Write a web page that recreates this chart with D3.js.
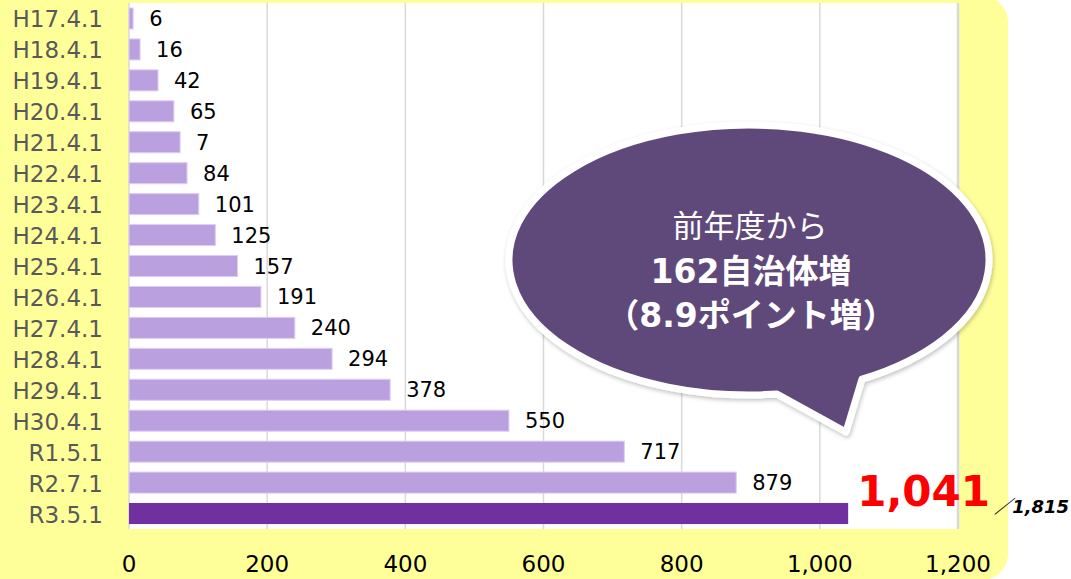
<html>
<head>
	<meta charset='utf-8' />
	<title>自治体数の推移</title>
	<script src="https://cdn.jsdelivr.net/npm/d3@7/dist/d3.min.js"></script>
	<style>
	body { margin: 0; background: #fff; }
	text { font-family: "DejaVu Sans", "Noto Sans CJK JP", sans-serif; }
	</style>
</head>
<body>
<script>

	// data
	var dates = ["H17.4.1","H18.4.1","H19.4.1","H20.4.1","H21.4.1","H22.4.1","H23.4.1","H24.4.1",
				 "H25.4.1","H26.4.1","H27.4.1","H28.4.1","H29.4.1","H30.4.1","R1.5.1","R2.7.1","R3.5.1"];
	var counts = [6,16,42,65,74,84,101,125,157,191,240,294,378,550,717,879,1041];
	var countLabels = ["6","16","42","65","7","84","101","125","157","191","240","294","378","550","717","879","1,041"];
	var xTicks = [0,200,400,600,800,1000,1200];
	var totalLabel = "／1,815";
	var calloutLines = ["前年度から","162自治体増","（8.9ポイント増）"];

	var W = 1071, H = 579;
	var plot = {left: 129, right: 958, top: 3, bottom: 529};

	var svg = d3.select("body").append("svg")
		.attr("width", W)
		.attr("height", H);

	var defs = svg.append("defs");
	var f = defs.append("filter").attr("id","shadow").attr("x","-10%").attr("y","-10%").attr("width","120%").attr("height","130%");
	f.append("feDropShadow").attr("dx",1).attr("dy",2).attr("stdDeviation",2).attr("flood-color","#000").attr("flood-opacity",0.25);

	// yellow panel
	svg.append("rect")
		.attr("x",-30).attr("y",-4)
		.attr("width",1038).attr("height",584)
		.attr("rx",26)
		.attr("fill","#ffff99");

	svg.append("rect")
		.attr("x",plot.left).attr("y",plot.top)
		.attr("width",plot.right-plot.left).attr("height",plot.bottom-plot.top)
		.attr("fill","#fff");

	var xScale = d3.scaleLinear().domain([0,1200]).range([plot.left,plot.right]);
	var yScale = d3.scaleBand().domain(dates).range([plot.top,plot.bottom]).paddingInner(0.32).paddingOuter(0.16);

	// gridlines
	svg.append("g")
		.selectAll("line")
		.data(xTicks)
		.enter().append("line")
		.attr("x1",d=>xScale(d)).attr("x2",d=>xScale(d))
		.attr("y1",plot.top).attr("y2",plot.bottom)
		.attr("stroke","#d9d9d9")
		.attr("stroke-width",d=>d==1200 ? 2.5 : 1.5);

	// bars
	svg.append("g")
		.selectAll("rect")
		.data(counts)
		.enter().append("rect")
		.attr("x",xScale(0))
		.attr("y",(d,i)=>yScale(dates[i]))
		.attr("width",d=>xScale(d)-xScale(0))
		.attr("height",yScale.bandwidth())
		.attr("fill",(d,i)=> i==counts.length-1 ? "#7030a0" : "#bba0e0")
		.attr("stroke",(d,i)=> i==counts.length-1 ? "none" : "#dccff2")
		.attr("stroke-width",1);

	// value labels
	svg.append("g")
		.selectAll("text")
		.data(counts.slice(0,-1))
		.enter().append("text")
		.attr("x",d=>xScale(d)+16)
		.attr("y",(d,i)=>yScale(dates[i])+yScale.bandwidth()/2+7.5)
		.attr("font-size","21px")
		.attr("fill","#000")
		.text((d,i)=>countLabels[i]);

	var last = counts.length-1;
	svg.append("text")
		.attr("x",xScale(counts[last])+9)
		.attr("y",yScale(dates[last])+yScale.bandwidth()/2-8)
		.attr("font-size","42px")
		.attr("font-weight","bold")
		.attr("fill","#ff0000")
		.text(countLabels[last]);

	svg.append("text")
		.attr("x",xScale(counts[last])+146)
		.attr("y",yScale(dates[last])+yScale.bandwidth()/2-1)
		.attr("font-size","18px")
		.attr("font-weight","bold")
		.attr("font-style","italic")
		.attr("fill","#000")
		.text(totalLabel);

	// category axis
	svg.append("g")
		.selectAll("text")
		.data(dates)
		.enter().append("text")
		.attr("x",103)
		.attr("y",d=>yScale(d)+yScale.bandwidth()/2+9)
		.attr("text-anchor","end")
		.attr("font-size","23px")
		.attr("fill","#595959")
		.text(d=>d);

	// value axis
	svg.append("g")
		.selectAll("text")
		.data(xTicks)
		.enter().append("text")
		.attr("x",d=>xScale(d))
		.attr("y",572)
		.attr("text-anchor","middle")
		.attr("font-size","23px")
		.attr("fill","#000")
		.text(d=>d3.format(",")(d));

	// callout bubble: ellipse with a tail pointing down to the last bar
	var cx = 749, cy = 260, rx = 240, ry = 135;
	function onEllipse(x, bottom) {
		var t = (x-cx)/rx;
		return [x, cy + (bottom ? 1 : -1)*ry*Math.sqrt(1-t*t)];
	}
	var pR = onEllipse(862, true), pL = onEllipse(777, true);
	var bubble = "M" + pR + " A" + rx + " " + ry + " 0 1 0 " + pL + " L846,432 Z";
	svg.append("path")
		.attr("d",bubble)
		.attr("fill","#5f497a")
		.attr("stroke","#fff")
		.attr("stroke-width",7)
		.attr("stroke-linejoin","round")
		.attr("filter","url(#shadow)");

	svg.append("text")
		.attr("x",cx+1).attr("y",237)
		.attr("text-anchor","middle")
		.attr("font-size","31px")
		.attr("fill","#fff")
		.text(calloutLines[0]);

	svg.append("text")
		.attr("x",cx+2).attr("y",283)
		.attr("text-anchor","middle")
		.attr("font-size","33px")
		.attr("font-weight","bold")
		.attr("fill","#fff")
		.text(calloutLines[1]);

	svg.append("text")
		.attr("x",cx+2).attr("y",327)
		.attr("text-anchor","middle")
		.attr("font-size","33px")
		.attr("font-weight","bold")
		.attr("fill","#fff")
		.text(calloutLines[2]);

</script>
</body>
</html>
